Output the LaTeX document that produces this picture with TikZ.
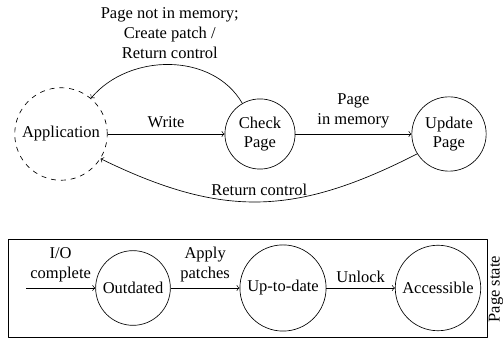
\documentclass[tikz,border=0pt]{standalone}
\usepackage{fontspec}
\setmainfont{Liberation Serif}

\tikzstyle{obj1}=[black, line width=0.4pt, line join=round]

\begin{document}
\begin{tikzpicture}[
	x=0.606pt, y=0.606pt,
	state/.style={obj1, draw, circle, align=center},
	trans/.style={obj1, ->}
	]
	
	\useasboundingbox (0,0) rectangle (503,338);
	
	% Write path: application, check and update of the page
	\node[state, dashed] (app) at (61,204) {Application};
	\node[state] (check) at (260,204) {Check\\Page};
	\node[state] (update) at (449,204) {Update\\Page};
	
	\draw[trans] (app) -- node[above] {Write} (check);
	\draw[trans] (check) -- node[above, align=center] {Page\\in memory} (update);
	\draw[trans] (check.120) to[out=120, in=50] node[above, align=center] {Page not in memory;\\Create patch /\\Return control} (app.50);
	\draw[trans] (update.212) to[out=207, in=334, looseness=1.1] node[above] {Return control} (app.328);
	
	% States of a page, boxed
	\draw[obj1] (8,1) rectangle (487,99);
	\node[rotate=90] (pagestate) at (496,49) {Page state};
	
	\coordinate (iostart) at (26,50);
	\node[state] (outdated) at (133,50) {Outdated};
	\node[state] (uptodate) at (283,50) {Up-to-date};
	\node[state] (accessible) at (438,50) {Accessible};
	
	\draw[trans] (iostart) -- node[above, align=center] {I/O\\complete} (outdated);
	\draw[trans] (outdated) -- node[above, align=center] {Apply\\patches} (uptodate);
	\draw[trans] (uptodate) -- node[above] {Unlock} (accessible);
	
\end{tikzpicture}
\end{document}
